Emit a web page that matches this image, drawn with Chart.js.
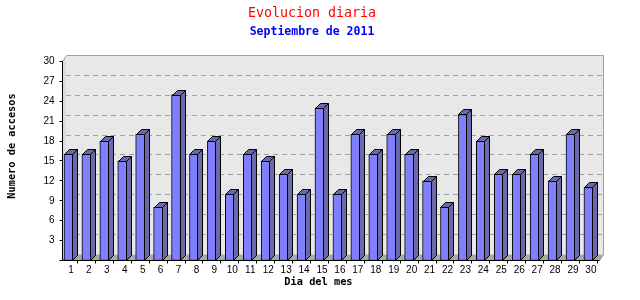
<!DOCTYPE html>
<html>
<head>
<meta charset="utf-8">
<script src="https://cdn.jsdelivr.net/npm/chart.js@4/dist/chart.umd.min.js"></script>
<style>
  html, body { margin: 0; padding: 0; background: #fff; }
  #wrap { width: 640px; height: 300px; position: relative; }
</style>
</head>
<body>
<div id="wrap"><canvas id="c"></canvas></div>
<script>
// ---- data ----
const days = ['1','2','3','4','5','6','7','8','9','10','11','12','13','14','15',
              '16','17','18','19','20','21','22','23','24','25','26','27','28','29','30'];
const accesos = [16,16,18,15,19,8,25,16,18,10,16,15,13,10,23,10,19,16,19,16,12,8,22,18,13,13,16,12,19,11];
const yTicks = [0,3,6,9,12,15,18,21,24,27,30];
const titleText = 'Evolucion diaria';
const subtitleText = 'Septiembre de 2011';
const yTitle = 'Numero de accesos';
const xTitle = 'Dia del mes';

// ---- styling constants ----
const FRONT = '#8080ff';
const SIDE = '#6a6aaa';
const D = 5;            // bar depth
const WDX = 4, WDY = 6; // wall offset
const SHIFT = 2.5;      // axis line shift relative to chart area left

function crisp(v) { return Math.round(v - 0.5) + 0.5; }

const bar3d = {
  id: 'bar3d',
  beforeDatasetsDraw(chart) {
    const { ctx, chartArea: a, scales: { y } } = chart;
    const L = a.left + SHIFT, R = a.right + 2.5, T = a.top, B = a.bottom;
    ctx.save();
    // back wall
    ctx.fillStyle = '#e8e8e8';
    ctx.fillRect(L + WDX, T - WDY, R - L, B - T);
    // left wall
    ctx.fillStyle = '#dcdcdc';
    ctx.beginPath();
    ctx.moveTo(L, T); ctx.lineTo(L + WDX, T - WDY); ctx.lineTo(L + WDX, B - WDY); ctx.lineTo(L, B);
    ctx.closePath(); ctx.fill();
    // floor
    ctx.fillStyle = '#a8a8a8';
    ctx.beginPath();
    ctx.moveTo(L, B); ctx.lineTo(L + WDX, B - WDY); ctx.lineTo(R + WDX, B - WDY); ctx.lineTo(R, B);
    ctx.closePath(); ctx.fill();
    // dashed grid lines on back wall
    ctx.strokeStyle = '#a0a0a0';
    ctx.lineWidth = 1;
    ctx.setLineDash([5, 4]);
    yTicks.forEach(v => {
      if (v <= y.min || v >= y.max) return;
      const py = crisp(y.getPixelForValue(v) - WDY);
      ctx.beginPath(); ctx.moveTo(L + WDX, py); ctx.lineTo(R + WDX, py); ctx.stroke();
    });
    ctx.setLineDash([]);
    // frame
    ctx.strokeStyle = '#a0a0a0';
    ctx.beginPath();
    ctx.moveTo(crisp(L), crisp(T));
    ctx.lineTo(crisp(L + WDX), crisp(T - WDY));
    ctx.lineTo(crisp(R + WDX), crisp(T - WDY));
    ctx.lineTo(crisp(R + WDX), crisp(B - WDY));
    ctx.lineTo(crisp(R), crisp(B));
    ctx.stroke();
    ctx.restore();
  },
  afterDatasetsDraw(chart) {
    const { ctx } = chart;
    const meta = chart.getDatasetMeta(0);
    ctx.save();
    ctx.fillStyle = SIDE;
    ctx.strokeStyle = '#000';
    ctx.lineWidth = 1;
    meta.data.forEach(bar => {
      const { x, y, base, width } = bar.getProps(['x', 'y', 'base', 'width'], true);
      const l = crisp(x - width / 2 + 0.5), r = crisp(x + width / 2 - 0.5);
      const t = crisp(y + 0.5), b = crisp(base);
      // top face
      ctx.beginPath();
      ctx.moveTo(l, t); ctx.lineTo(l + D, t - D); ctx.lineTo(r + D, t - D); ctx.lineTo(r, t);
      ctx.closePath(); ctx.fill(); ctx.stroke();
      // side face
      ctx.beginPath();
      ctx.moveTo(r, t); ctx.lineTo(r + D, t - D); ctx.lineTo(r + D, b - D); ctx.lineTo(r, b);
      ctx.closePath(); ctx.fill(); ctx.stroke();
    });
    ctx.restore();
  },
  afterDraw(chart) {
    const { ctx, chartArea: a, scales: { y } } = chart;
    const x0 = crisp(a.left + SHIFT + 0.5);
    const R = a.right + 2.5;
    ctx.save();
    ctx.strokeStyle = '#000';
    ctx.lineWidth = 1;
    // y axis line
    ctx.beginPath(); ctx.moveTo(x0, crisp(a.top)); ctx.lineTo(x0, crisp(a.bottom)); ctx.stroke();
    // y tick marks
    yTicks.forEach(v => {
      const py = crisp(y.getPixelForValue(v));
      ctx.beginPath(); ctx.moveTo(x0 - 3, py); ctx.lineTo(x0, py); ctx.stroke();
    });
    // x axis line
    ctx.beginPath(); ctx.moveTo(x0, crisp(a.bottom)); ctx.lineTo(crisp(R), crisp(a.bottom)); ctx.stroke();
    // axis titles
    ctx.fillStyle = '#000';
    ctx.font = 'bold 10.3px "DejaVu Sans Mono"';
    ctx.textAlign = 'center';
    ctx.textBaseline = 'middle';
    ctx.fillText(xTitle, (a.left + a.right) / 2 - 10, 282);
    ctx.translate(12.5, 146);
    ctx.rotate(-Math.PI / 2);
    ctx.fillText(yTitle, 0, 0);
    ctx.restore();
  }
};

Chart.defaults.font.family = '"Liberation Sans", Arial, sans-serif';
Chart.defaults.font.size = 10;
Chart.defaults.color = '#000';

new Chart(document.getElementById('c'), {
  type: 'bar',
  data: {
    labels: days,
    datasets: [{
      data: accesos,
      backgroundColor: FRONT,
      borderColor: '#000',
      borderWidth: 1,
      barThickness: 9,
      borderSkipped: false
    }]
  },
  options: {
    responsive: true,
    maintainAspectRatio: false,
    animation: false,
    layout: { padding: { left: 0, right: 16, top: 0, bottom: 0 } },
    plugins: {
      legend: { display: false },
      tooltip: { enabled: false },
      title: {
        display: true,
        text: titleText,
        color: '#ff0000',
        font: { family: '"DejaVu Sans Mono"', size: 13.3, weight: 'normal', lineHeight: 1.2 },
        padding: { top: 6, bottom: 3.5 }
      },
      subtitle: {
        display: true,
        text: subtitleText,
        color: '#0000ff',
        font: { family: '"DejaVu Sans Mono"', size: 11.5, weight: 'bold', lineHeight: 1.2 },
        padding: { top: 0, bottom: 22.1 }
      }
    },
    scales: {
      x: {
        offset: true,
        grid: {
          display: true,
          drawOnChartArea: false,
          drawTicks: true,
          tickLength: 3,
          offset: true,
          color: ctx => ctx.index === 0 ? 'rgba(0,0,0,0)' : '#000'
        },
        border: { display: false },
        ticks: { autoSkip: false, maxRotation: 0, minRotation: 0, labelOffset: 2.5, padding: 1 },
        afterFit(s) { s.height = 39.5; }
      },
      y: {
        min: 0,
        max: 30,
        ticks: {
          stepSize: 3,
          padding: 5,
          callback: v => (v === 0 ? '' : String(v))
        },
        grid: { display: false, drawTicks: false },
        border: { display: false },
        afterFit(s) { s.width = 59.5; }
      },
      yR: {
        type: 'linear',
        position: 'right',
        display: true,
        grid: { display: false, drawTicks: false },
        border: { display: false },
        ticks: { display: false },
        afterFit(s) { s.width = 26.6; }
      }
    }
  },
  plugins: [bar3d]
});
</script>
</body>
</html>
